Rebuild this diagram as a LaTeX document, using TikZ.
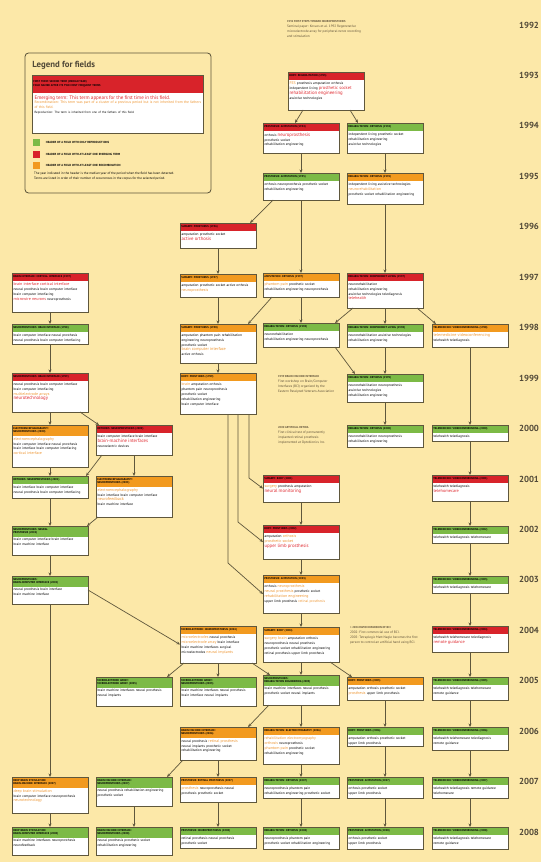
\documentclass[tikz,border=0pt]{standalone}
\usepackage{fontspec}
\setmainfont{PT Sans}
\usetikzlibrary{arrows.meta, calc}

\definecolor{bgyellow}{HTML}{FCE8A8}
\definecolor{hdrgreen}{HTML}{7CBA46}
\definecolor{hdrred}{HTML}{D8232A}
\definecolor{hdrorange}{HTML}{F29A1F}
\definecolor{termred}{HTML}{E02A30}
\definecolor{termorange}{HTML}{EE9530}
\definecolor{linecol}{HTML}{5F573C}
\definecolor{yearcol}{HTML}{4F4736}
\definecolor{notecol}{HTML}{5E5038}

% emerging / recombined terms
\newcommand{\emr}[2][6.8]{{\fontsize{#1}{8}\selectfont\color{termred}#2}}
\newcommand{\ori}[2][5.6]{{\fontsize{#1}{7}\selectfont\color{termorange}#2}}

% name, x, y, height, header colour, header, terms
\newcommand{\fieldbox}[7]{%
  \node[fieldframe, minimum height=#4*0.5mm] (#1) at (#2,#3) {};
  \node[fieldhead, fill=#5] (#1h) at (#1.north west) {#6};
  \node[fieldbody] (#1b) at (#1h.south west) {#7};
  \draw[frame] (#1.north west) rectangle (#1.south east);
}

\begin{document}
\begin{tikzpicture}[x=0.5mm, y=-0.5mm,
    fieldframe/.style={anchor=north west, fill=white, minimum width=38mm,
                       inner sep=0pt, outer sep=0pt},
    fieldhead/.style={anchor=north west, minimum width=38mm, minimum height=4mm,
                      text width=36.6mm, inner xsep=0.7mm, inner ysep=1.1mm,
                      outer sep=0pt, align=left,
                      font=\fontsize{3.9}{5.2}\selectfont\bfseries},
    fieldbody/.style={anchor=north west, text width=36.6mm, inner xsep=0.7mm,
                      inner ysep=0.8mm, align=left,
                      font=\fontsize{4.95}{7}\selectfont},
    frame/.style={draw=linecol, line width=1.2pt},
    flow/.style={->, draw=linecol, line width=1pt},
    yearlbl/.style={font=\fontsize{12.5}{12.5}\selectfont\bfseries, text=yearcol},
    note/.style={anchor=north west, align=left, inner sep=0pt,
                 font=\fontsize{4.8}{7.2}\selectfont, text=notecol},
    >={Stealth[length=5pt, width=4.2pt]}
  ]
  \fill[bgyellow] (0,0) rectangle (541,862);
  \useasboundingbox (0,0) rectangle (541,862);

  % years
  \foreach \yr [count=\i from 0] in {1992,...,2008}
    \node[yearlbl] (y\yr) at (529, {25+\i*50.44}) {\yr};

  % legend
  \draw[frame, rounded corners=5pt] (25,53) rectangle (211,193);
  \node[anchor=west, font=\fontsize{12.5}{13}\selectfont\bfseries, text=yearcol]
    (legtitle) at (30,65) {Legend for fields};
  \node[fieldframe, minimum width=85.5mm, minimum height=29mm] (legbox) at (32,75) {};
  \node[fieldhead, fill=hdrred, minimum width=85.5mm, text width=84.1mm,
        minimum height=9mm] (leghead) at (legbox.north west)
    {FIRST TERM: SECOND TERM (MEDIAN YEAR)\\ FIELD NAMED AFTER ITS TWO MOST FREQUENT TERMS};
  \node[anchor=north west, align=left, text width=84mm, inner xsep=1.2mm, inner ysep=1.2mm,
        font=\fontsize{5.2}{6.4}\selectfont] (legterms) at (leghead.south west)
    {{\fontsize{7.2}{9}\selectfont\color{termred}Emerging term: This term appears for the first time in this field.}\\[0.5pt]
     {\color{termorange}Recombination: This term was part of a cluster of a previous period but is not
     inherited from the fathers of this field.}\\[1pt]
     {\fontsize{4.4}{6}\selectfont Reproduction: The term is inherited from one of the fathers of this field.}};
  \draw[frame] (legbox.north west) rectangle (legbox.south east);

  \foreach \c/\t [count=\i from 0] in {hdrgreen/HEADER OF A FIELD WITH ONLY REPRODUCTIONS,
      hdrred/HEADER OF A FIELD WITH AT LEAST ONE EMERGING TERM,
      hdrorange/HEADER OF A FIELD WITH AT LEAST ONE RECOMBINATION} {
    \node[anchor=north west, fill=\c, minimum size=3.6mm, inner sep=0pt] (sq\i)
      at (33, {139+\i*11.5}) {};
    \node[anchor=west, font=\fontsize{4.2}{4.2}\selectfont\bfseries] (sqlbl\i)
      at ([xshift=1.5mm]sq\i.east) {\t};
  }
  \node[note, text=black, font=\fontsize{4.7}{7.5}\selectfont] (legnote) at (34,172)
    {The year indicated in the header is the median year of the period when the field has been detected.\\
     Terms are listed in order of their number of occurrences in the corpus for the selected period.};

  % milestones
  \node[note] (n1992) at (287,20) {{\bfseries\fontsize{4}{6}\selectfont 1992 FIRST STEPS TOWARD NEUROPROSTHESIS}\\
    Seminal paper: Kovacs et al. 1992 Regenerative\\ microelectrode array for peripheral nerve recording\\ and stimulation};
  \node[note] (n1999) at (278,375) {{\bfseries\fontsize{4}{6}\selectfont 1999 BRAIN MACHINE INTERFACE}\\
    First workshop on Brain/Computer\\ Interfaces (BCI) organized by the\\ Eastern Paralyzed Veterans Association};
  \node[note] (n2000) at (278,426) {{\bfseries\fontsize{4}{6}\selectfont 2000 ARTIFICIAL RETINA}\\
    First clinical test of permanently\\ implanted retinal prosthesis\\ implemented at Optobionics Inc.};
  \node[note] (n2004) at (350,626) {{\bfseries\fontsize{4}{6}\selectfont > 2004 RAPID EXPANSION OF BCI}\\
    2002: First commercial use of BCI.\\ 2005: Tetraplegic Matt Nagle becomes the first\\ person to control an artificial hand using BCI.};

  % fields, 1993--1999
  \fieldbox{f93}{288}{72}{38}{hdrred}{BODY: REHABILITATION (1993)}
    {\ori{FES} prosthesis amputation orthosis\\ independent living \emr[6.4]{prosthetic socket}\\
     \emr{rehabilitation engineering}\\ assistive technologies}
  \fieldbox{d94}{263}{123}{30}{hdrred}{PROSTHESIS: AMPUTATION (1994)}
    {orthosis \emr{neuroprosthesis}\\ prosthetic socket\\ rehabilitation engineering}
  \fieldbox{e94}{347}{123}{30}{hdrgreen}{REHABILITATION: ORTHOSIS (1994)}
    {independent living prosthetic socket\\ rehabilitation engineering\\ assistive technologies}
  \fieldbox{d95}{263}{173}{27}{hdrgreen}{PROSTHESIS: AMPUTATION (1995)}
    {orthosis neuroprosthesis prosthetic socket\\ rehabilitation engineering}
  \fieldbox{e95}{347}{173}{31}{hdrorange}{REHABILITATION: ORTHOSIS (1995)}
    {independent living assistive technologies\\ \ori{neurorehabilitation}\\ prosthetic socket rehabilitation engineering}
  \fieldbox{c96}{180}{223}{25}{hdrred}{SURGERY: PROSTHESIS (1996)}
    {amputation prosthetic socket\\ \emr{active orthosis}}
  \fieldbox{a97}{12}{273}{39}{hdrred}{BRAIN INTERFACE: CORTICAL INTERFACE (1997)}
    {\emr[5.8]{brain interface cortical interface}\\ neural prosthesis brain computer interface\\
     brain computer interfacing\\ \emr[5.8]{microwire neurons} neuroprosthesis}
  \fieldbox{c97}{180}{274}{23}{hdrorange}{SURGERY: PROSTHESIS (1997)}
    {amputation prosthetic socket active orthosis\\ \ori{neuroprosthesis}}
  \fieldbox{d97}{263}{273}{24}{hdrorange}{AMPUTATION: ORTHOSIS (1997)}
    {\ori{phantom pain} prosthetic socket\\ rehabilitation engineering neuroprosthesis}
  \fieldbox{e97}{347}{273}{35}{hdrred}{REHABILITATION: INDEPENDENT LIVING (1997)}
    {neurorehabilitation\\ rehabilitation engineering\\ assistive technologies telediagnosis\\ \emr[5.8]{telehealth}}
  \fieldbox{a98}{12}{324}{20}{hdrgreen}{NEUROPROSTHESIS: BRAIN INTERFACE (1998)}
    {brain computer interface neural prosthesis\\ neural prosthesis brain computer interfacing}
  \fieldbox{c98}{180}{324}{39}{hdrorange}{SURGERY: PROSTHESIS (1998)}
    {amputation phantom pain rehabilitation\\ engineering neuroprosthesis\\ prosthetic socket\\
     \ori[6]{brain computer interface}\\ active orthosis}
  \fieldbox{d98}{263}{323}{24}{hdrgreen}{REHABILITATION: ORTHOSIS (1998)}
    {neurorehabilitation\\ rehabilitation engineering neuroprosthesis}
  \fieldbox{e98}{347}{324}{23}{hdrgreen}{REHABILITATION: INDEPENDENT LIVING (1998)}
    {neurorehabilitation assistive technologies\\ rehabilitation engineering}
  \fieldbox{f98}{432}{324}{23}{hdrorange}{TELEMEDICINE: VIDEOCONFERENCING (1998)}
    {\ori[5.9]{telemedicine videoconferencing}\\ telehealth telediagnosis}
  \fieldbox{a99}{12}{373}{39}{hdrred}{NEUROPROSTHESIS: BRAIN INTERFACE (1999)}
    {neural prosthesis brain computer interface\\ brain computer interfacing\\ \ori{multielectrode arrays}\\
     \emr{neurotechnology}}
  \fieldbox{c99}{180}{373}{41}{hdrorange}{BODY: PROSTHESIS (1999)}
    {\ori{brain} amputation orthosis\\ phantom pain neuroprosthesis\\ prosthetic socket\\
     rehabilitation engineering\\ brain computer interface}
  \fieldbox{e99}{347}{374}{28}{hdrgreen}{REHABILITATION: ORTHOSIS (1999)}
    {neurorehabilitation neuroprosthesis\\ assistive technologies\\ rehabilitation engineering}

  % fields, 2000--2004
  \fieldbox{a00}{12}{425}{42}{hdrorange}{ELECTROENCEPHALOGRAPHY:\\ NEUROPROSTHESIS (2000)}
    {\ori{electroencephalography}\\ brain computer interface neural prosthesis\\
     brain interface brain computer interfacing\\ \ori{cortical interface}}
  \fieldbox{b00}{96}{425}{30}{hdrred}{ORTHOSIS: NEUROPROSTHESIS (2000)}
    {brain computer interface brain interface\\ \emr{brain-machine interfaces}\\ neuroelectric devices}
  \fieldbox{e00}{347}{425}{22}{hdrgreen}{REHABILITATION: ORTHOSIS (2000)}
    {neurorehabilitation neuroprosthesis\\ rehabilitation engineering}
  \fieldbox{f00}{432}{425}{16}{hdrgreen}{TELEMEDICINE: VIDEOCONFERENCING (2000)}
    {telehealth telediagnosis}
  \fieldbox{a01}{12}{476}{22}{hdrgreen}{ORTHOSIS: NEUROPROSTHESIS (2001)}
    {brain interface brain computer interface\\ neural prosthesis brain computer interfacing}
  \fieldbox{b01}{96}{476}{41}{hdrorange}{ELECTROENCEPHALOGRAPHY:\\ NEUROPROSTHESIS (2001)}
    {\ori{electroencephalography}\\ brain interface brain computer interface\\ \ori[6]{neurofeedback}\\
     brain machine interface}
  \fieldbox{d01}{263}{475}{27}{hdrred}{SURGERY: BODY (2001)}
    {\ori{surgery} prosthesis amputation\\ \emr{neural monitoring}}
  \fieldbox{f01}{432}{475}{26}{hdrred}{TELEMEDICINE: VIDEOCONFERENCING (2001)}
    {telehealth telediagnosis\\ \emr[6.2]{telehomecare}}
  \fieldbox{a02}{12}{526}{29}{hdrgreen}{NEUROPROSTHESIS: NEURAL\\ PROSTHESIS (2002)}
    {brain computer interface brain interface\\ brain machine interface}
  \fieldbox{d02}{263}{525}{34}{hdrred}{BODY: PROSTHESIS (2002)}
    {amputation \ori{orthosis}\\ \ori{prosthetic socket}\\ \emr{upper limb prosthesis}}
  \fieldbox{f02}{432}{526}{17}{hdrgreen}{TELEMEDICINE: VIDEOCONFERENCING (2002)}
    {telehealth telediagnosis telehomecare}
  \fieldbox{a03}{12}{576}{28}{hdrgreen}{NEUROPROSTHESIS:\\ BRAIN-COMPUTER INTERFACE (2003)}
    {neural prosthesis brain interface\\ brain machine interface}
  \fieldbox{d03}{263}{575}{38}{hdrorange}{PROSTHESIS: AMPUTATION (2003)}
    {orthosis \ori{neuroprosthesis}\\ \ori{neural prosthesis} prosthetic socket\\
     \ori{rehabilitation engineering}\\ upper limb prosthesis \ori[5.1]{retinal prosthesis}}
  \fieldbox{f03}{432}{576}{17}{hdrgreen}{TELEMEDICINE: VIDEOCONFERENCING (2003)}
    {telehealth telediagnosis telehomecare}
  \fieldbox{c04}{180}{626}{37}{hdrorange}{MICROELECTRODE: NEUROPROSTHESIS (2004)}
    {\ori{microelectrodes} neural prosthesis\\ \ori{microelectrode array} brain interface\\
     brain machine interfaces surgical\\ microelectrodes \ori{neural implants}}
  \fieldbox{d04}{263}{627}{35}{hdrorange}{SURGERY: BODY (2004)}
    {\ori{surgery brain} amputation orthosis\\ neuroprosthesis neural prosthesis\\
     prosthetic socket rehabilitation engineering\\ retinal prosthesis upper limb prosthesis}
  \fieldbox{f04}{432}{626}{26}{hdrred}{TELEMEDICINE: VIDEOCONFERENCING (2004)}
    {telehealth telehomecare telediagnosis\\ \emr[6.2]{remote guidance}}

  % fields, 2005--2008
  \fieldbox{b05}{96}{677}{29}{hdrgreen}{MICROELECTRODE ARRAY:\\ MICROELECTRODE ARRAY (2005)}
    {brain machine interfaces neural prosthesis\\ neural implants}
  \fieldbox{c05}{180}{677}{29}{hdrgreen}{MICROELECTRODE ARRAY:\\ NEUROPROSTHESIS (2005)}
    {brain machine interfaces neural prosthesis\\ brain interface neural implants}
  \fieldbox{d05}{263}{675}{30}{hdrgreen}{NEUROPROSTHESIS:\\ REHABILITATION ENGINEERING (2005)}
    {brain machine interfaces neural prosthesis\\ prosthetic socket neural implants}
  \fieldbox{e05}{347}{677}{23}{hdrorange}{BODY: PROSTHESIS (2005)}
    {amputation orthosis prosthetic socket\\ \ori{prosthesis} upper limb prosthesis}
  \fieldbox{f05}{432}{677}{23}{hdrgreen}{TELEMEDICINE: VIDEOCONFERENCING (2005)}
    {telehealth telediagnosis telehomecare\\ remote guidance}
  \fieldbox{c06}{180}{727}{33}{hdrorange}{BRAIN MACHINE INTERFACE:\\ NEUROPROSTHESIS (2006)}
    {neural prosthesis \ori{retinal prosthesis}\\ neural implants prosthetic socket\\ rehabilitation engineering}
  \fieldbox{d06}{263}{727}{37}{hdrorange}{REHABILITATION: ELECTROMYOGRAPHY (2006)}
    {\ori[5.3]{rehabilitation electromyography}\\ \ori{orthosis} neuroprosthesis\\
     \ori{phantom pain} prosthetic socket\\ rehabilitation engineering}
  \fieldbox{e06}{347}{727}{19}{hdrgreen}{BODY: PROSTHESIS (2006)}
    {amputation orthosis prosthetic socket\\ upper limb prosthesis}
  \fieldbox{f06}{432}{727}{23}{hdrgreen}{TELEMEDICINE: VIDEOCONFERENCING (2006)}
    {telehealth telehomecare telediagnosis\\ remote guidance}
  \fieldbox{a07}{12}{777}{36}{hdrorange}{DEEP BRAIN STIMULATION:\\ BRAIN-MACHINE INTERFACE (2007)}
    {\ori{deep brain stimulation}\\ brain computer interface neuroprosthesis\\ \ori{neurotechnology}}
  \fieldbox{b07}{96}{777}{29}{hdrgreen}{BRAIN MACHINE INTERFACE:\\ NEUROPROSTHESIS (2007)}
    {neural prosthesis rehabilitation engineering\\ prosthetic socket}
  \fieldbox{c07}{180}{777}{25}{hdrorange}{PROSTHESIS: RETINAL PROSTHESIS (2007)}
    {\ori{prosthesis} neuroprosthesis neural\\ prosthesis prosthetic socket}
  \fieldbox{d07}{263}{777}{21}{hdrgreen}{REHABILITATION: ORTHOSIS (2007)}
    {neuroprosthesis phantom pain\\ rehabilitation engineering prosthetic socket}
  \fieldbox{e07}{347}{777}{21}{hdrgreen}{PROSTHESIS: AMPUTATION (2007)}
    {orthosis prosthetic socket\\ upper limb prosthesis}
  \fieldbox{f07}{432}{777}{21}{hdrgreen}{TELEMEDICINE: VIDEOCONFERENCING (2007)}
    {telehealth telediagnosis remote guidance\\ telehomecare}
  \fieldbox{a08}{12}{827}{28}{hdrgreen}{DEEP BRAIN STIMULATION:\\ BRAIN-COMPUTER INTERFACE (2008)}
    {brain machine interfaces neuroprosthesis\\ neurofeedback}
  \fieldbox{b08}{96}{827}{28}{hdrgreen}{BRAIN MACHINE INTERFACE:\\ NEUROPROSTHESIS (2008)}
    {neural prosthesis prosthetic socket\\ rehabilitation engineering}
  \fieldbox{c08}{180}{827}{21}{hdrgreen}{PROSTHESIS: NEUROPROSTHESIS (2008)}
    {retinal prosthesis neural prosthesis\\ prosthetic socket}
  \fieldbox{d08}{263}{827}{22}{hdrgreen}{REHABILITATION: ORTHOSIS (2008)}
    {neuroprosthesis phantom pain\\ prosthetic socket rehabilitation engineering}
  \fieldbox{e08}{347}{827}{22}{hdrgreen}{PROSTHESIS: AMPUTATION (2008)}
    {orthosis prosthetic socket\\ upper limb prosthesis}
  \fieldbox{f08}{432}{827}{22}{hdrgreen}{TELEMEDICINE: VIDEOCONFERENCING (2008)}
    {telehealth telediagnosis telehomecare\\ remote guidance}

  % straight descent within a column
  \foreach \a/\b in {d94/d95, e94/e95, d95/d97, e95/e97, c96/c97, c97/c98, c98/c99,
      a97/a98, a98/a99, a99/a00, a00/a01, a01/a02, a02/a03, a03/a07, a07/a08,
      d97/d98, e97/e98, e98/e99, e99/e00, b00/b01,
      f98/f00, f00/f01, f01/f02, f02/f03, f03/f04, f04/f05, f05/f06, f06/f07, f07/f08,
      d01/d02, d02/d03, d03/d04, d04/d05, d05/d06, d06/d07, d07/d08,
      c04/c05, c06/c07, c07/c08, b07/b08, e05/e06, e06/e07, e07/e08}
    \draw[flow] (\a.south) -- (\b.north);

  % splits and merges
  \draw[flow] ($(f93.south west)+(15,0)$) -- ($(d94.north west)+(32,0)$);
  \draw[flow] ($(f93.south east)+(-14,0)$) -- ($(e94.north west)+(11,0)$);
  \draw[flow] ($(d95.south west)+(10,0)$) -- ($(c96.north east)+(-6,0)$);
  \draw[flow] ($(d97.south west)+(9,0)$) -- ($(c98.north east)+(-8,0)$);
  \draw[flow] ($(e97.south west)+(6,0)$) -- ($(d98.north east)+(-4,0)$);
  \draw[flow] ($(e97.south east)+(-6,0)$) -- ($(f98.north west)+(4,0)$);
  \draw[flow] ($(d98.south east)+(-4,0)$) -- ($(e99.north west)+(8,0)$);
  \draw[flow] ($(a99.south east)+(-8,0)$) -- ($(b00.north west)+(3,0)$);
  \draw[flow] ($(b00.south west)+(6,0)$) -- ($(a01.north east)+(-2,0)$);
  \draw[flow] ($(b01.south west)+(2,0)$) -- ($(a02.north east)+(-1,0)$);
  \draw[flow] ($(c99.south)+(31,0)$) -- ++(0,64) -- (d01.west);
  \draw[flow] ($(c99.south)+(20,0)$) -- ++(0,108) -- (d02.west);
  \draw[flow] ($(c99.south)+(10,0)$) -- ++(0,149) -- (d03.west);
  \draw[flow] (a03.east) -- (c04.west);
  \draw[flow] ($(c04.south west)+(4,0)$) -- ($(b05.north east)+(-5,0)$);
  \draw[flow] ($(c04.south east)+(-4,0)$) -- ($(d05.north west)+(7,0)$);
  \draw[flow] ($(d04.south east)+(-9,0)$) -- ($(e05.north west)+(5,0)$);
  \draw[flow] ($(d05.south west)+(6,0)$) -- ($(c06.north east)+(-8,0)$);
  \draw[flow] ($(c06.south west)+(3,0)$) -- ($(b07.north east)+(-5,0)$);
\end{tikzpicture}
\end{document}
